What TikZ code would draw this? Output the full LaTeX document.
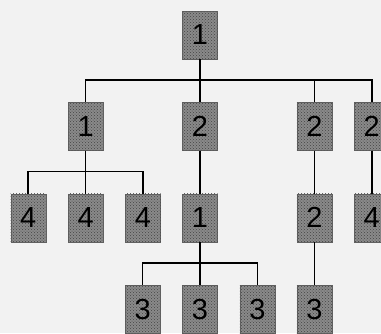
\documentclass[tikz,border=0pt]{standalone}
\usepackage{fontspec}
\setmainfont{Liberation Sans}
\usepackage{xcolor}
\usepackage{tikz}
\usetikzlibrary{positioning, patterns}

\definecolor{paper}{HTML}{F2F2F2}
\definecolor{boxgray}{HTML}{8A8A8A}
\definecolor{dotgray}{HTML}{444444}

\begin{document}
\begin{tikzpicture}[
  x=1pt, y=1pt,
  node distance=43pt and 22pt,
  blk/.style={fill=boxgray, draw=boxgray!70!black, line width=0.4pt,
    minimum width=35pt, minimum height=48pt, inner sep=0pt,
    postaction={pattern=crosshatch dots, pattern color=dotgray},
    font=\fontsize{29}{29}\selectfont},
  tree/.style={line width=1.6pt}
]
  \fill[paper] (0,0) rectangle (381,-333);
  \useasboundingbox (0,0) rectangle (381,-333);

  % root and first level
  \node[blk] (root) at (200,-35) {1};
  \node[blk, below=of root] (b) {2};
  \node[blk, left=79pt of b] (a) {1};
  \node[blk, right=79pt of b] (c) {2};
  \node[blk, right=of c] (d) {2};

  % second level
  \node[blk, below=of a] (a2) {4};
  \node[blk, left=of a2] (a1) {4};
  \node[blk, right=of a2] (a3) {4};
  \node[blk, below=of b] (b1) {1};
  \node[blk, below=of c] (c1) {2};
  \node[blk, below=of d] (d1) {4};

  % third level
  \node[blk, below=of b1] (e2) {3};
  \node[blk, left=of e2] (e1) {3};
  \node[blk, right=of e2] (e3) {3};
  \node[blk, below=of c1] (c2) {3};

  \foreach \kid in {a,b,c,d}
    \draw[tree] (root.south) -- ++(0,-21) -| (\kid.north);
  \foreach \kid in {a1,a2,a3}
    \draw[tree] (a.south) -- ++(0,-21) -| (\kid.north);
  \foreach \kid in {e1,e2,e3}
    \draw[tree] (b1.south) -- ++(0,-21) -| (\kid.north);
  \draw[tree] (b) -- (b1);
  \draw[tree] (c) -- (c1);
  \draw[tree] (d) -- (d1);
  \draw[tree] (c1) -- (c2);
\end{tikzpicture}
\end{document}
